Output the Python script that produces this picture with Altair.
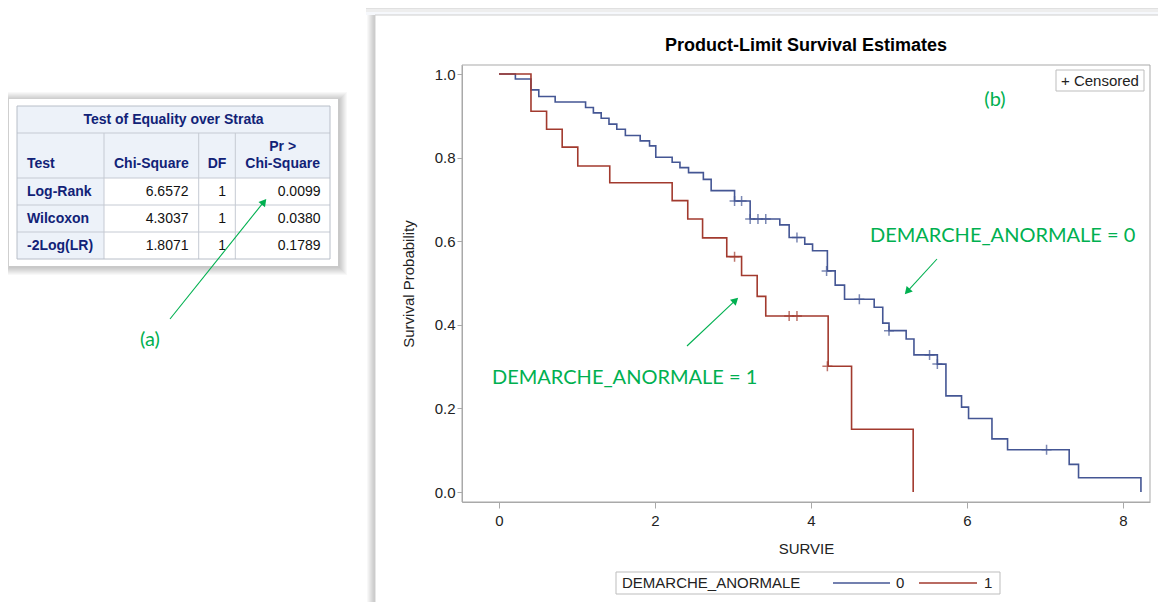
import math
import altair as alt
import pandas as pd

# ---------------- data ----------------
blue_time = [0.0, 0.21, 0.41, 0.51, 0.72, 1.11, 1.21, 1.31, 1.41, 1.51,
             1.62, 1.81, 1.93, 2.01, 2.22, 2.32, 2.43, 2.62, 2.72, 3.02,
             3.22, 3.60, 3.72, 3.92, 4.02, 4.21, 4.31, 4.43, 4.81, 4.92,
             5.00, 5.22, 5.32, 5.62, 5.73, 5.93, 6.02, 6.32, 6.52, 7.31,
             7.43, 8.23]
blue_surv = [1.0, 0.988, 0.962, 0.946, 0.933, 0.920, 0.907, 0.894, 0.880, 0.868,
             0.853, 0.840, 0.828, 0.801, 0.789, 0.776, 0.764, 0.748, 0.721, 0.696,
             0.653, 0.639, 0.609, 0.593, 0.577, 0.529, 0.495, 0.461, 0.442, 0.404,
             0.386, 0.366, 0.328, 0.306, 0.230, 0.203, 0.176, 0.127, 0.101, 0.066,
             0.034, 0.0]
red_time = [0.0, 0.41, 0.61, 0.81, 1.01, 1.42, 2.22, 2.42, 2.61, 2.92,
            3.11, 3.31, 3.42, 4.22, 4.52, 5.31]
red_surv = [1.0, 0.911, 0.868, 0.825, 0.780, 0.740, 0.697, 0.653, 0.608, 0.563,
            0.518, 0.468, 0.421, 0.301, 0.150, 0.0]
blue_cens_time = [3.02, 3.11, 3.22, 3.32, 3.42, 3.82, 4.20, 4.62, 5.00, 5.52, 5.62, 7.02]
blue_cens_surv = [0.696, 0.696, 0.653, 0.653, 0.653, 0.609, 0.529, 0.461, 0.386, 0.328, 0.306, 0.101]
red_cens_time = [3.02, 3.72, 3.82, 4.21]
red_cens_surv = [0.563, 0.421, 0.421, 0.301]
groups = ["0", "1"]
x_ticks = [0, 2, 4, 6, 8]
y_ticks = [0.0, 0.2, 0.4, 0.6, 0.8, 1.0]

chart_title = "Product-Limit Survival Estimates"
x_title = "SURVIE"
y_title = "Survival Probability"
legend_title = "DEMARCHE_ANORMALE"
censored_label = "+ Censored"

table_title = "Test of Equality over Strata"
col_headers = ["Test", "Chi-Square", "DF", "Pr >", "Chi-Square"]
tests = ["Log-Rank", "Wilcoxon", "-2Log(LR)"]
chi_square = ["6.6572", "4.3037", "1.8071"]
dof = ["1", "1", "1"]
p_values = ["0.0099", "0.0380", "0.1789"]

note_a = "(a)"
note_b = "(b)"
note_0 = "DEMARCHE_ANORMALE = 0"
note_1 = "DEMARCHE_ANORMALE = 1"

# ---------------- layout (page pixels) ----------------
PL, PT = 462, 65          # plot area origin on the page
W, H = 688, 437
X0_PX, PX_PER_T = 499, 78.0
Y0_PX, PX_PER_S = 492, 418.0
XMIN = (PL - X0_PX) / PX_PER_T
XMAX = (PL + W - X0_PX) / PX_PER_T
YMAX = (Y0_PX - PT) / PX_PER_S
YMIN = (Y0_PX - (PT + H)) / PX_PER_S

BLUE, RED = "#445694", "#A23A2E"
GREEN = "#00B050"
FRAME = "#a9a9a9"
FONT = "Liberation Sans"
GFONT = "Lato"
NAVY = "#112277"
HDR_BG = "#EDF2F9"
GRIDC = "#c5cad3"


def X(px):
    return px - PL


def Y(py):
    return py - PT


def rect_layer(rows, stroke=None, stroke_width=1.0):
    df = pd.DataFrame(rows, columns=["x0", "y0", "x1", "y1", "fill"])
    df["x0"] = df["x0"].map(X)
    df["x1"] = df["x1"].map(X)
    df["y0"] = df["y0"].map(Y)
    df["y1"] = df["y1"].map(Y)
    mk = {}
    if stroke:
        mk = dict(stroke=stroke, strokeWidth=stroke_width)
    return alt.Chart(df).mark_rect(**mk).encode(
        x=alt.X("x0:Q", scale=None, axis=None), x2="x1:Q",
        y=alt.Y("y0:Q", scale=None, axis=None), y2="y1:Q",
        fill=alt.Fill("fill:N", scale=None, legend=None))


def rule_layer(rows, color, width=1.0):
    df = pd.DataFrame(rows, columns=["x0", "y0", "x1", "y1"])
    df["x0"] = df["x0"].map(X)
    df["x1"] = df["x1"].map(X)
    df["y0"] = df["y0"].map(Y)
    df["y1"] = df["y1"].map(Y)
    return alt.Chart(df).mark_rule(color=color, strokeWidth=width).encode(
        x=alt.X("x0:Q", scale=None, axis=None), x2="x1:Q",
        y=alt.Y("y0:Q", scale=None, axis=None), y2="y1:Q")


def text_layer(items, **style):
    df = pd.DataFrame(items, columns=["label", "x", "y"])
    df["x"] = df["x"].map(X)
    df["y"] = df["y"].map(Y)
    return alt.Chart(df).mark_text(**style).encode(
        x=alt.X("x:Q", scale=None, axis=None),
        y=alt.Y("y:Q", scale=None, axis=None),
        text="label:N")


layers = []

# --- shadows / cards ---
tcard = (9, 99, 338, 266)
box = (375, 15, 1160, 607)
shadow = []
for k in range(1, 9):
    a = 0.028
    shadow.append((tcard[0] - k + 1, tcard[1] - k + 1, tcard[2] + k + 1, tcard[3] + k + 1, f"rgba(0,0,0,{a})"))
    shadow.append((box[0] - k, box[1] - k, box[2] + k, box[3] + k, f"rgba(0,0,0,{a})"))
layers.append(rect_layer(shadow))
layers.append(rect_layer([
    (366, 0, 1166, 3, "#c4c4c4"), (366, 3, 1166, 6, "#d2d2d2"),
    (366, 6, 1166, 9, "#e0e0e0"), (366, 9, 1166, 12, "#eeeeee"),
    (366, 12, 1166, box[1], "#f6f8fc"),
]))
layers.append(rect_layer([tcard + ("white",)]))
layers.append(rect_layer([box + ("white",)], stroke="#cfcfcf"))

# --- table ---
TX = [17, 104, 198.7, 235.3, 330]
TY = [106, 133, 178, 205, 232, 259]
layers.append(rect_layer([
    (TX[0], TY[0], TX[4], TY[2], HDR_BG),
    (TX[0], TY[2], TX[1], TY[5], HDR_BG),
    (TX[1], TY[2], TX[4], TY[5], "white"),
]))
trules = [(TX[0], y, TX[4], y) for y in TY[1:5]]
trules += [(x, TY[1], x, TY[5]) for x in TX[1:4]]
layers.append(rule_layer(trules, GRIDC))
layers.append(rect_layer([(TX[0], TY[0], TX[4], TY[5], "transparent")], stroke="#b8bec8"))

hdr_center = [
    (table_title, (TX[0] + TX[4]) / 2, 119.5),
    (col_headers[1], (TX[1] + TX[2]) / 2, 163.5),
    (col_headers[2], (TX[2] + TX[3]) / 2, 163.5),
    (col_headers[3], (TX[3] + TX[4]) / 2, 147),
    (col_headers[4], (TX[3] + TX[4]) / 2, 163.5),
]
layers.append(text_layer(hdr_center, font=FONT, fontSize=14, fontWeight="bold",
                         color=NAVY, align="center", baseline="middle"))
row_y = [(TY[i] + TY[i + 1]) / 2 + 0.5 for i in range(2, 5)]
left_bold = [(col_headers[0], 27, 163.5)] + [(t, 27, y) for t, y in zip(tests, row_y)]
layers.append(text_layer(left_bold, font=FONT, fontSize=14, fontWeight="bold",
                         color=NAVY, align="left", baseline="middle"))
vals = [(v, 188.5, y) for v, y in zip(chi_square, row_y)]
vals += [(v, 226, y) for v, y in zip(dof, row_y)]
vals += [(v, 320.5, y) for v, y in zip(p_values, row_y)]
layers.append(text_layer(vals, font=FONT, fontSize=14, color="#111",
                         align="right", baseline="middle"))

# --- chart title ---
layers.append(text_layer([(chart_title, PL + W / 2, 46)], font=FONT, fontSize=18,
                         fontWeight="bold", color="#000", align="center", baseline="middle"))

# --- plot frame and censored box ---
layers.append(rect_layer([(PL, PT, PL + W, PT + H, "transparent")], stroke=FRAME))
layers.append(rect_layer([(1056, 70, 1144, 91, "white")], stroke="#bdbdbd"))
layers.append(text_layer([(censored_label, 1061, 81)], font=FONT, fontSize=15,
                         color="#222", align="left", baseline="middle"))

# --- legend (drawn at the bottom, as in the SAS output) ---
LEG_Y = 583
layers.append(rect_layer([(616, 572, 1000, 594, "white")], stroke="#bdbdbd"))
layers.append(text_layer([(legend_title, 622, LEG_Y)], font=FONT, fontSize=15,
                         color="#222", align="left", baseline="middle"))
layers.append(text_layer([(groups[0], 896, LEG_Y), (groups[1], 984, LEG_Y)], font=FONT,
                         fontSize=15, color="#222", align="left", baseline="middle"))
layers.append(rule_layer([(833, LEG_Y, 890, LEG_Y)], BLUE, 1.6))
layers.append(rule_layer([(919, LEG_Y, 977, LEG_Y)], RED, 1.6))

# --- survival curves ---
km = pd.DataFrame(
    [{"t": t, "s": s, "grp": groups[0]} for t, s in zip(blue_time, blue_surv)] +
    [{"t": t, "s": s, "grp": groups[1]} for t, s in zip(red_time, red_surv)])

xscale = alt.Scale(domain=[XMIN, XMAX], nice=False, zero=False)
yscale = alt.Scale(domain=[YMIN, YMAX], nice=False, zero=False)

xaxis = alt.Axis(values=x_ticks, format="d", grid=False, tickSize=6, tickColor=FRAME,
                 domainColor=FRAME, labelFont=FONT, labelFontSize=15, labelColor="#222",
                 labelPadding=5, labelFlush=False, titleFont=FONT, titleFontSize=15,
                 titleFontWeight="normal", titleColor="#222", titleX=W / 2, titleY=46,
                 titleBaseline="middle", titleAlign="center", zindex=1)
yaxis = alt.Axis(values=y_ticks, format=".1f", grid=False, tickSize=5, tickColor=FRAME,
                 domainColor=FRAME, labelFont=FONT, labelFontSize=15, labelColor="#222",
                 labelPadding=2, labelFlush=False, titleFont=FONT, titleFontSize=15,
                 titleFontWeight="normal", titleColor="#222", titleX=-54, titleY=H / 2,
                 titleAngle=270, titleBaseline="middle", titleAlign="center", zindex=1)

lines = alt.Chart(km).mark_line(interpolate="step-after", strokeWidth=1.6).encode(
    x=alt.X("t:Q", scale=xscale, axis=xaxis, title=x_title),
    y=alt.Y("s:Q", scale=yscale, axis=yaxis, title=y_title),
    color=alt.Color("grp:N", scale=alt.Scale(domain=groups, range=[BLUE, RED]), legend=None),
)
layers.append(lines)

plus = "M-1,0L1,0M0,-1L0,1"
for ct, cs, col in [(blue_cens_time, blue_cens_surv, BLUE), (red_cens_time, red_cens_surv, RED)]:
    cdf = pd.DataFrame({"t": ct, "s": cs})
    layers.append(alt.Chart(cdf).mark_point(shape=plus, filled=False, size=100,
                                            strokeWidth=1.5, color=col).encode(
        x=alt.X("t:Q", scale=xscale), y=alt.Y("s:Q", scale=yscale)))

# --- green annotations ---
arrows = [((170, 319), (267, 198)), ((937, 259), (904, 295)), ((687, 346), (739, 297))]
seg, heads = [], []
for (sx, sy), (tx, ty) in arrows:
    dx, dy = tx - sx, ty - sy
    L = math.hypot(dx, dy)
    ux, uy = dx / L, dy / L
    seg.append((sx, sy, tx - ux * 5, ty - uy * 5))
    heads.append({"x": X(tx - ux * 4.8), "y": Y(ty - uy * 4.8),
                  "ang": math.degrees(math.atan2(dx, -dy)) % 360})
layers.append(rule_layer(seg, GREEN, 1.1))
layers.append(alt.Chart(pd.DataFrame(heads)).mark_point(shape="triangle-up", filled=True,
                                                        size=70, color=GREEN, opacity=1).encode(
    x=alt.X("x:Q", scale=None, axis=None), y=alt.Y("y:Q", scale=None, axis=None),
    angle=alt.Angle("ang:Q", scale=None)))
layers.append(text_layer([(note_a, 150, 340), (note_b, 995, 100)], font=GFONT, fontSize=20,
                         color=GREEN, align="center", baseline="middle"))
layers.append(text_layer([(note_0, 870, 236), (note_1, 492, 378)], font=GFONT, fontSize=20,
                         color=GREEN, align="left", baseline="middle"))

chart = alt.layer(*layers).properties(
    width=W, height=H,
    padding={"left": PL - 8, "top": PT - 8, "right": 1150 - (PL - 8) - W,
             "bottom": 594 - (PT - 8) - H},
    autosize=alt.AutoSizeParams(type="none"),
    background="white",
).configure_view(stroke=None)

chart.save("out.html", embed_options={"renderer": "svg", "actions": False})
